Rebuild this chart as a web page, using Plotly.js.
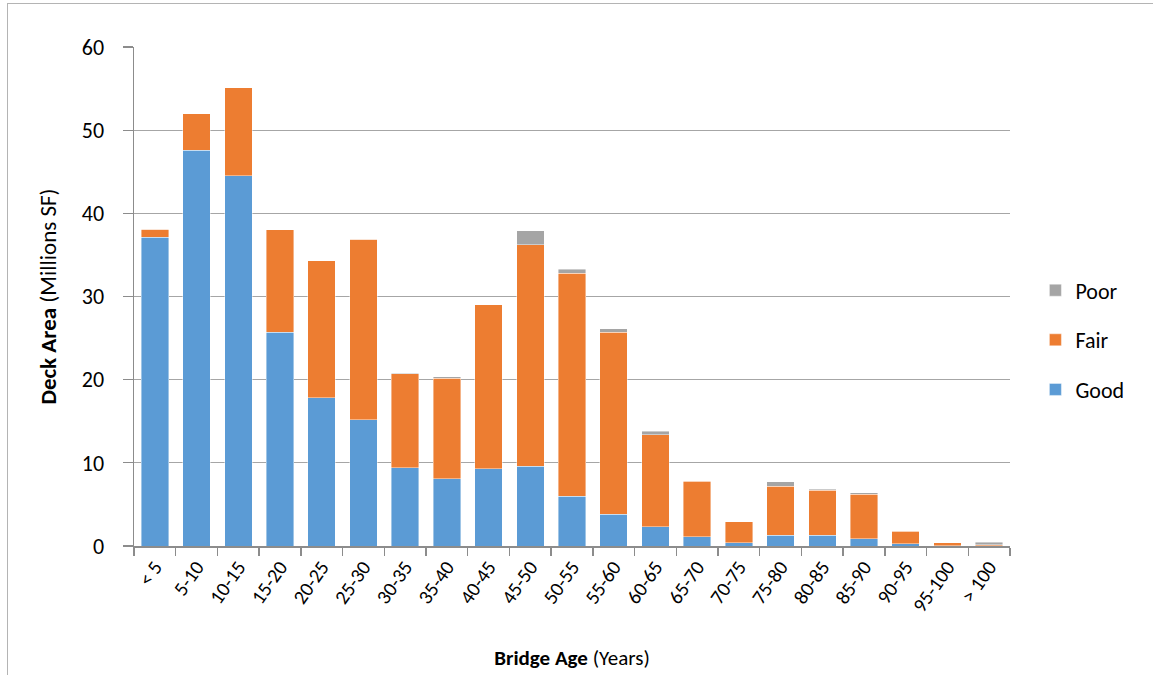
<!DOCTYPE html>
<html>
<head>
<meta charset="utf-8">
<script src="https://cdn.plot.ly/plotly-3.0.1.min.js"></script>
<style>
  html, body { margin: 0; padding: 0; background: #fff; overflow: hidden; }
  #wrap { position: relative; width: 1153px; height: 675px; }
  #chart { position: absolute; left: 0; top: 0; width: 1153px; height: 675px; }
  #frame { position: absolute; left: 7px; top: 3px; width: 1200px; height: 720px;
           border: 1.5px solid #b4b4b4; pointer-events: none; }
</style>
</head>
<body>
<div id="wrap">
  <div id="chart"></div>
  <div id="frame"></div>
</div>
<script>
const categories = ['< 5','5-10','10-15','15-20','20-25','25-30','30-35','35-40','40-45','45-50','50-55','55-60','60-65','65-70','70-75','75-80','80-85','85-90','90-95','95-100','> 100'];
const good = [37.1, 47.6, 44.5, 25.7, 17.8, 15.2, 9.4, 8.1, 9.3, 9.6, 6.0, 3.8, 2.3, 1.1, 0.4, 1.3, 1.3, 0.9, 0.3, 0.05, 0.05];
const fair = [1.0, 4.4, 10.6, 12.3, 16.5, 21.7, 11.3, 12.1, 19.7, 26.6, 26.8, 21.9, 11.1, 6.7, 2.5, 5.9, 5.4, 5.3, 1.5, 0.35, 0.1];
const poor = [0, 0, 0, 0.05, 0, 0, 0.05, 0.15, 0, 1.7, 0.5, 0.4, 0.4, 0.05, 0, 0.5, 0.15, 0.2, 0.05, 0, 0.3];
const yTicks = [0, 10, 20, 30, 40, 50, 60];

const FONT = 'Calibri, Carlito, Lato, "Open Sans", sans-serif';
const edge = {color: 'rgba(255,255,255,0.6)', width: 0.7};

const traces = [
  {type: 'bar', name: 'Good', x: categories, y: good, marker: {color: '#5B9BD5', line: edge}, legendgroup: 'g', legendrank: 3},
  {type: 'bar', name: 'Fair', x: categories, y: fair, marker: {color: '#ED7D31', line: edge}, legendgroup: 'f', legendrank: 2},
  {type: 'bar', name: 'Poor', x: categories, y: poor, marker: {color: '#A5A5A5', line: edge}, legendgroup: 'p', legendrank: 1}
];

const layout = {
  width: 1153, height: 675,
  margin: {l: 134, r: 143, t: 47, b: 129, pad: 0},
  paper_bgcolor: '#ffffff', plot_bgcolor: '#ffffff',
  barmode: 'stack', bargap: 0.34,
  font: {family: FONT, color: '#000', size: 18},
  showlegend: true,
  legend: {
    x: 1.029, xanchor: 'left', y: 0.413, yanchor: 'middle',
    traceorder: 'grouped', tracegroupgap: 18,
    font: {family: FONT, size: 22, color: '#000'},
    itemwidth: 30, bgcolor: 'rgba(0,0,0,0)'
  },
  xaxis: {
    type: 'category',
    tickangle: -55,
    tickfont: {family: FONT, size: 20, color: '#000'},
    showline: true, linecolor: '#8c8c8c', linewidth: 1.5,
    ticks: 'outside', tickson: 'boundaries', ticklen: 8, tickcolor: '#8c8c8c', tickwidth: 1.5,
    showgrid: false, zeroline: false,
    title: {text: '<b>Bridge Age</b> (Years)', font: {family: FONT, size: 21, color: '#000'}, standoff: 34},
    automargin: false
  },
  yaxis: {
    range: [0, 60],
    tickvals: yTicks,
    ticktext: yTicks.map(String),
    tickfont: {family: FONT, size: 22, color: '#000'},
    ticklabelstandoff: 14,
    showline: true, linecolor: '#8c8c8c', linewidth: 1.5,
    ticks: 'outside', ticklen: 10, tickcolor: '#8c8c8c', tickwidth: 1.2,
    showgrid: true, gridcolor: '#a6a6a6', gridwidth: 1.2,
    zeroline: false,
    title: {text: '<b>Deck Area</b> (Millions SF)', font: {family: FONT, size: 23, color: '#000'}, standoff: 18},
    automargin: false
  }
};

Plotly.newPlot('chart', traces, layout, {displayModeBar: false, staticPlot: true});
</script>
</body>
</html>
